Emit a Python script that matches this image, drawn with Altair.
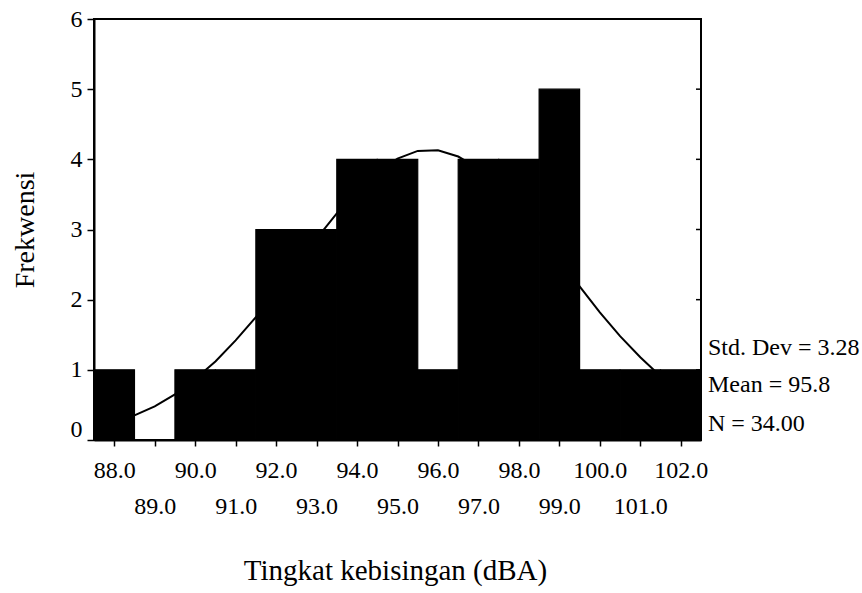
import altair as alt
import pandas as pd

# Histogram bins (centre of each 1-dBA bin) and frequencies
bin_centers = [88, 89, 90, 91, 92, 93, 94, 95, 96, 97, 98, 99, 100, 101, 102]
frequencies = [1, 0, 1, 1, 3, 3, 4, 4, 1, 4, 4, 5, 1, 1, 1]

# Fitted normal curve
curve_x = [87.5, 88.0, 88.5, 89.0, 89.5, 90.0, 90.5, 91.0, 91.5, 92.0, 92.5,
           93.0, 93.5, 94.0, 94.5, 95.0, 95.5, 96.0, 96.5, 97.0, 97.5, 98.0,
           98.5, 99.0, 99.5, 100.0, 100.5, 101.0, 101.5, 102.0, 102.5]
curve_y = [0.17, 0.25, 0.35, 0.48, 0.65, 0.87, 1.12, 1.42, 1.75, 2.11, 2.49,
           2.87, 3.23, 3.56, 3.82, 4.01, 4.12, 4.13, 4.04, 3.87, 3.62, 3.30,
           2.95, 2.57, 2.19, 1.82, 1.48, 1.18, 0.91, 0.69, 0.51]

x_ticks = [88, 89, 90, 91, 92, 93, 94, 95, 96, 97, 98, 99, 100, 101, 102]
y_ticks = [0, 1, 2, 3, 4, 5, 6]
stats_labels = ["Std. Dev = 3.28", "Mean = 95.8", "N = 34.00"]

FONT = "Liberation Serif"
W, H = 607, 421

bars_df = pd.DataFrame({"center": bin_centers, "count": frequencies})
curve_df = pd.DataFrame({"x": curve_x, "y": curve_y})
yt_df = pd.DataFrame({"v": y_ticks})

x_scale = alt.Scale(domain=[87.5, 102.5], nice=False, zero=False)
y_scale = alt.Scale(domain=[0, 6], nice=False)

x_axis = alt.Axis(
    values=x_ticks, format=".1f", title="Tingkat kebisingan (dBA)",
    labelFont=FONT, labelFontSize=24, labelColor="black",
    labelBaseline="alphabetic", labelOverlap=False, labelFlush=False, labelBound=False,
    labelPadding={"condition": {"test": "datum.value % 2 === 0", "value": 31}, "value": 67},
    tickSize=6, tickColor="black", tickWidth=1.5,
    domainColor="black", domainWidth=2, grid=False,
    titleFont=FONT, titleFontSize=29, titleFontWeight="normal", titleColor="black",
    titleX=301, titleY=130, titleBaseline="middle", titleAlign="center",
)
y_axis = alt.Axis(
    values=y_ticks, format="d", title="Frekwensi",
    labelFont=FONT, labelFontSize=24, labelColor="black",
    labelPadding=5, labelOverlap=False, labelFlush=False, labelBound=False,
    labelOffset={"condition": {"test": "datum.value === 0", "value": -11}, "value": 0},
    tickSize=7, tickColor="black", tickWidth=1.5,
    domainColor="black", domainWidth=2, grid=False,
    titleFont=FONT, titleFontSize=28, titleFontWeight="normal", titleColor="black",
    titleX=-69, titleY=H / 2, titleBaseline="middle", titleAlign="center", titleAngle=-90,
)

bars = alt.Chart(bars_df).transform_calculate(
    x0="datum.center - 0.5", x1="datum.center + 0.5"
).mark_bar(color="black", stroke="black", strokeWidth=1.2).encode(
    x=alt.X("x0:Q", scale=x_scale, axis=x_axis),
    x2="x1:Q",
    y=alt.Y("count:Q", scale=y_scale, axis=y_axis),
    y2=alt.datum(0),
)

curve = alt.Chart(curve_df).mark_line(color="black", strokeWidth=2).encode(
    x=alt.X("x:Q", scale=x_scale),
    y=alt.Y("y:Q", scale=y_scale),
)

right_ticks = alt.Chart(yt_df).mark_rule(color="black", strokeWidth=1.5).encode(
    y=alt.Y("v:Q", scale=y_scale),
    x=alt.value(W - 5),
    x2=alt.value(W),
)

stat_y = [336, 373, 412]
stats = [
    alt.Chart(pd.DataFrame({"t": [lab]})).mark_text(
        font=FONT, fontSize=24, align="left", baseline="alphabetic", color="black"
    ).encode(text="t:N", x=alt.value(W + 7), y=alt.value(yy))
    for lab, yy in zip(stats_labels, stat_y)
]

chart = alt.layer(bars, curve, right_ticks, *stats).properties(
    width=W, height=H,
    autosize=alt.AutoSizeParams(type="none"),
    padding={"left": 94, "top": 19, "right": 862 - 94 - W, "bottom": 593 - 19 - H},
    background="white",
).configure_view(stroke="black", strokeWidth=2)

chart.save("out.html", embed_options={"renderer": "svg", "actions": False})
